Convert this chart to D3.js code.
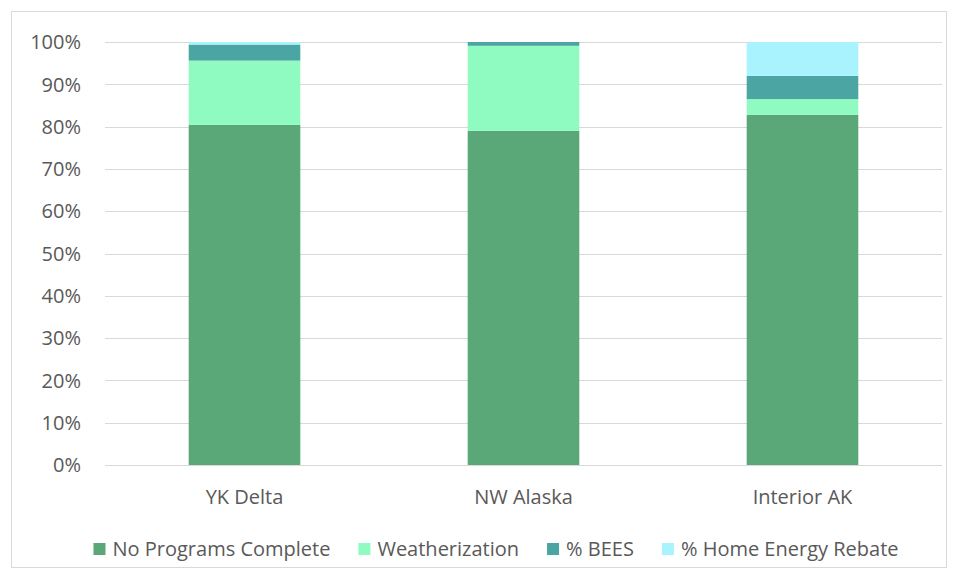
<!DOCTYPE html>
<html>
<head>
<meta charset="utf-8">
<script src="https://cdn.jsdelivr.net/npm/d3@7"></script>
<style>
  body { margin: 0; background: #fff; }
  text { font-family: "Open Sans", "Noto Sans", sans-serif; fill: #595959; }
</style>
</head>
<body>
<svg id="chart" width="958" height="579"></svg>
<script>
// data (percent of homes)
const regions = ["YK Delta", "NW Alaska", "Interior AK"];
const seriesNames = ["No Programs Complete", "Weatherization", "% BEES", "% Home Energy Rebate"];
const noPrograms = [80.4, 79.0, 82.8];
const weatherization = [15.2, 20.1, 3.7];
const bees = [3.8, 0.9, 5.5];
const homeRebate = [0.6, 0, 8.0];
const yTicks = [0, 10, 20, 30, 40, 50, 60, 70, 80, 90, 100];
const colors = ["#5aa777", "#8ffbc1", "#4ba6a3", "#a9f3ff"];

const svg = d3.select("#chart");
const margin = { left: 105, right: 16, top: 42, bottom: 114 };
const width = +svg.attr("width");
const height = +svg.attr("height");
const fontSize = 20;

// outer frame
svg.append("rect")
    .attr("x", 11.5).attr("y", 11.5)
    .attr("width", 935).attr("height", 556)
    .attr("fill", "none")
    .attr("stroke", "#d9d9d9");

const x = d3.scaleBand()
    .domain(regions)
    .range([margin.left, width - margin.right])
    .paddingInner(0.6)
    .paddingOuter(0.3);

const y = d3.scaleLinear()
    .domain([0, 100])
    .range([height - margin.bottom, margin.top]);

// gridlines
svg.append("g")
    .selectAll("line")
    .data(yTicks)
    .enter().append("line")
    .attr("x1", margin.left)
    .attr("x2", width - margin.right)
    .attr("y1", d => Math.round(y(d)) + 0.5)
    .attr("y2", d => Math.round(y(d)) + 0.5)
    .attr("stroke", "#d9d9d9")
    .attr("stroke-width", 1);

// stacked bars
const table = regions.map((r, i) => ({
    region: r,
    "No Programs Complete": noPrograms[i],
    "Weatherization": weatherization[i],
    "% BEES": bees[i],
    "% Home Energy Rebate": homeRebate[i]
}));
const stacked = d3.stack().keys(seriesNames)(table);

svg.append("g")
    .selectAll("g")
    .data(stacked)
    .enter().append("g")
    .attr("fill", (d, i) => colors[i])
    .selectAll("rect")
    .data(d => d)
    .enter().append("rect")
    .attr("x", d => x(d.data.region))
    .attr("width", x.bandwidth())
    .attr("y", d => y(d[1]))
    .attr("height", d => y(d[0]) - y(d[1]));

// y labels
svg.append("g")
    .selectAll("text")
    .data(yTicks)
    .enter().append("text")
    .attr("x", 81)
    .attr("y", d => y(d))
    .attr("dy", "0.36em")
    .attr("text-anchor", "end")
    .attr("font-size", fontSize)
    .text(d => d + "%");

// x labels
svg.append("g")
    .selectAll("text")
    .data(regions)
    .enter().append("text")
    .attr("x", d => x(d) + x.bandwidth() / 2)
    .attr("y", 497)
    .attr("dy", "0.36em")
    .attr("text-anchor", "middle")
    .attr("font-size", fontSize)
    .text(d => d);

// legend
const legend = svg.append("g");
const items = legend.selectAll("g")
    .data(seriesNames)
    .enter().append("g");
items.append("rect")
    .attr("width", 12).attr("height", 12)
    .attr("y", -6)
    .attr("fill", (d, i) => colors[i]);
items.append("text")
    .attr("x", 19)
    .attr("dy", "0.36em")
    .attr("font-size", fontSize)
    .text(d => d);

const gap = 28;
let pos = 0;
const offsets = [];
items.each(function () {
    offsets.push(pos);
    pos += this.getBBox().width + gap;
});
const total = pos - gap;
const startX = (85 + 907) / 2 - total / 2;
items.attr("transform", (d, i) => `translate(${startX + offsets[i]},549)`);
</script>
</body>
</html>
